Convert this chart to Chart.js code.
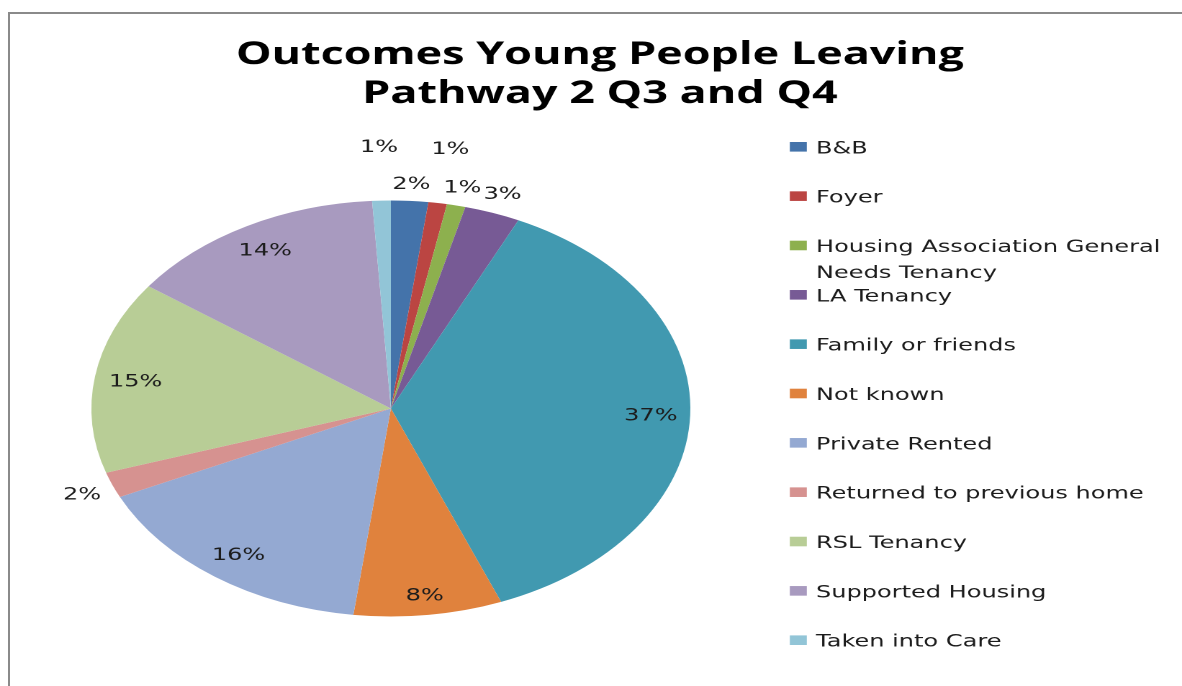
<!DOCTYPE html>
<html>
<head>
<meta charset="utf-8">
<title>Outcomes Young People Leaving Pathway 2 Q3 and Q4</title>
<script src="https://cdn.jsdelivr.net/npm/chart.js@4.4.1/dist/chart.umd.min.js"></script>
<style>
  html, body { margin: 0; padding: 0; background: #ffffff; overflow: hidden; width: 1182px; height: 686px; }
  #frame { position: absolute; left: 8px; top: 12px; width: 1200px; height: 700px;
           border-left: 2px solid #8a8a8a; border-top: 2px solid #8a8a8a; }
  /* the chart is laid out in a narrower box and stretched horizontally */
  #wrap { position: absolute; left: 0; top: 0; width: 821px; height: 686px;
          transform: scaleX(1.4397); transform-origin: 0 0; }
  #c { display: block; }
</style>
</head>
<body>
<div id="frame"></div>
<div id="wrap"><canvas id="c" width="821" height="686" style="width:821px;height:686px"></canvas></div>
<script>
// ---- data ----
const categories = [
  'B&B',
  'Foyer',
  'Housing Association General Needs Tenancy',
  'LA Tenancy',
  'Family or friends',
  'Not known',
  'Private Rented',
  'Returned to previous home',
  'RSL Tenancy',
  'Supported Housing',
  'Taken into Care'
];
const shares = [2, 1, 1, 3, 37, 8, 16, 2, 15, 14, 1];   // percent of leavers
const titleLines = ['Outcomes Young People Leaving', 'Pathway 2 Q3 and Q4'];

// ---- styling ----
const sliceColors = [
  '#4473AA', '#BB4542', '#8DB04E', '#775A95', '#4199B0', '#E0823D',
  '#94A9D2', '#D69290', '#B8CD96', '#A89ABF', '#92C5D7'
];
// 0 = label inside the slice, 1 = just outside, 2 = outside, one row further out
const labelRing = [1, 2, 1, 1, 0, 0, 0, 1, 0, 0, 2];

const W = 821, H = 686;
const TEXT_FONT = '16.7px "DejaVu Sans"';
const TEXT_COLOR = '#1c1c1c';

const titlePlugin = {
  id: 'titleText',
  afterDraw(chart) {
    const ctx = chart.ctx;
    ctx.save();
    ctx.fillStyle = '#000000';
    ctx.font = 'bold 31.2px "Open Sans"';
    ctx.textAlign = 'center';
    ctx.textBaseline = 'alphabetic';
    ctx.fillText(titleLines[0], 416.7, 64);
    ctx.fillText(titleLines[1], 416.7, 103);
    ctx.restore();
  }
};

const sliceLabelPlugin = {
  id: 'sliceLabels',
  afterDatasetsDraw(chart) {
    const ctx = chart.ctx;
    const meta = chart.getDatasetMeta(0);
    ctx.save();
    ctx.font = TEXT_FONT;
    ctx.fillStyle = TEXT_COLOR;
    ctx.textAlign = 'center';
    ctx.textBaseline = 'alphabetic';
    const capH = 16.7 * 0.73;
    const halfH = 10.6;
    meta.data.forEach((arc, i) => {
      const p = arc.getProps(['x', 'y', 'startAngle', 'endAngle', 'outerRadius'], true);
      const mid = (p.startAngle + p.endAngle) / 2;
      const ux = Math.cos(mid), uy = Math.sin(mid);
      const text = shares[i] + '%';
      const halfW = ctx.measureText(text).width / 2;
      const ext = Math.abs(ux) * halfW + Math.abs(uy) * halfH;
      let d;
      if (labelRing[i] === 0) d = p.outerRadius - 8.5 - ext;
      else d = p.outerRadius + 6.5 + ext + (labelRing[i] - 1) * 37;
      ctx.fillText(text, p.x + ux * d, p.y + uy * d + capH / 2);
    });
    ctx.restore();
  }
};

const legendPlugin = {
  id: 'sideLegend',
  afterDraw(chart) {
    const ctx = chart.ctx;
    const colors = chart.data.datasets[0].backgroundColor;
    ctx.save();
    ctx.font = TEXT_FONT;
    ctx.textAlign = 'left';
    ctx.textBaseline = 'alphabetic';
    const boxX = 548.6, textX = 566.8, firstBase = 153.3, step = 49.34, maxW = 244, lineH = 26;
    chart.data.labels.forEach((label, i) => {
      const base = firstBase + i * step;
      ctx.fillStyle = colors[i];
      ctx.fillRect(boxX, base - 11.3, 11.8, 9.6);
      // wrap long labels onto further lines
      const words = label.split(' ');
      const lines = [];
      let cur = '';
      words.forEach(w => {
        const t = cur ? cur + ' ' + w : w;
        if (ctx.measureText(t).width > maxW && cur) { lines.push(cur); cur = w; }
        else cur = t;
      });
      lines.push(cur);
      ctx.fillStyle = TEXT_COLOR;
      lines.forEach((ln, k) => ctx.fillText(ln, textX, base + k * lineH));
    });
    ctx.restore();
  }
};

new Chart(document.getElementById('c'), {
  type: 'pie',
  data: {
    labels: categories,
    datasets: [{
      data: shares,
      backgroundColor: sliceColors,
      borderWidth: 0
    }]
  },
  options: {
    responsive: false,
    maintainAspectRatio: false,
    devicePixelRatio: 2,
    animation: false,
    layout: { padding: { left: 63.5, right: W - 479.5, top: 200.5, bottom: H - 616.5 } },
    plugins: {
      legend: { display: false },
      tooltip: { enabled: false },
      title: { display: false }
    }
  },
  plugins: [titlePlugin, sliceLabelPlugin, legendPlugin]
});
</script>
</body>
</html>
